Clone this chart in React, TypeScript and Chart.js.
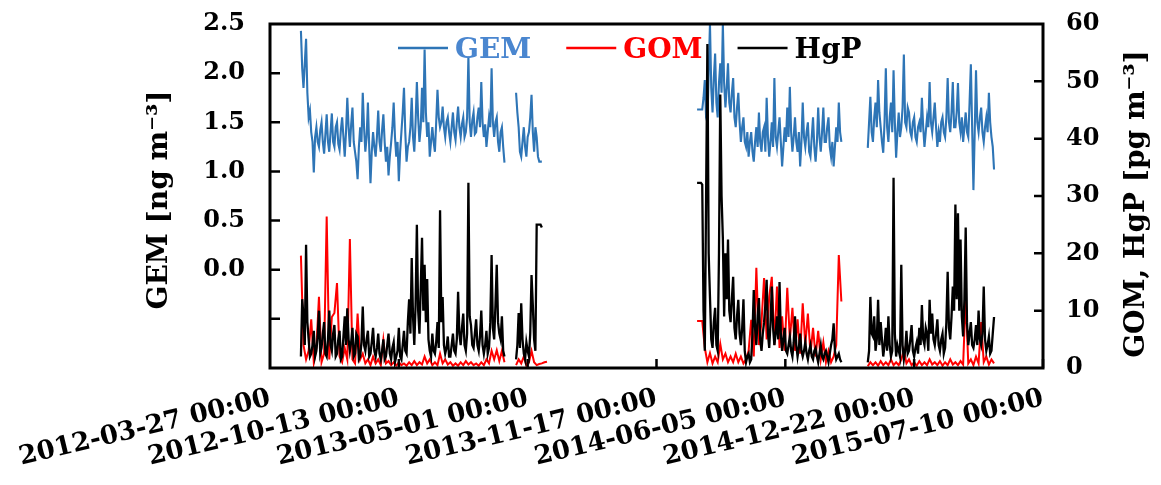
import React, { useEffect, useRef } from 'react';
import { Chart, registerables } from 'chart.js';

Chart.register(...registerables);

// Time axis: days elapsed since 2012-03-27 00:00.
// GEM and HgP segments are sampled every 2 days, GOM every 4 days.
const GEM_STEP_DAYS = 2;
const HGP_STEP_DAYS = 2;
const GOM_STEP_DAYS = 4;
const segmentStartDays = [48, 382, 663, 928];

const xTickLabels = [
  '2012-03-27 00:00',
  '2012-10-13 00:00',
  '2013-05-01 00:00',
  '2013-11-17 00:00',
  '2014-06-05 00:00',
  '2014-12-22 00:00',
  '2015-07-10 00:00',
];

// GEM [ng m-3]
const gemSegA = [
  2.43, 2.05, 1.85, 2.1, 2.35, 1.8, 1.55, 1.62, 1.4, 1.3, 0.99, 1.35, 1.45, 1.3, 1.25, 1.42, 1.5, 1.3, 1.18, 1.38,
  1.58, 1.3, 1.2, 1.4, 1.59, 1.3, 1.25, 1.45, 1.5, 1.28, 1.22, 1.42, 1.55, 1.35, 1.15, 1.4, 1.75, 1.45, 1.25, 1.48,
  1.65, 1.3, 1.2, 1.1, 0.92, 1.25, 1.45, 1.3, 1.8, 1.45, 1.2, 1.35, 1.7, 1.25, 0.88, 1.2, 1.4, 1.25, 1.15, 1.35,
  1.62, 1.3, 1.2, 1.42, 1.58, 1.3, 1.1, 1.25, 0.96, 1.15, 1.29, 1.45, 1.7, 1.35, 1.15, 1.3, 0.9, 1.2, 1.4, 1.6,
  1.85, 1.4, 1.1, 1.25, 1.3, 1.45, 1.75, 1.35, 1.2, 1.5, 1.91, 1.55, 1.3, 1.45, 1.85, 1.5, 2.24, 1.6, 1.35, 1.5,
  1.15, 1.3, 1.45, 1.3, 1.2, 1.5, 1.83, 1.55, 1.45, 1.5, 1.66, 1.45, 1.35, 1.5, 1.55, 1.4, 1.3, 1.45, 1.6, 1.4,
  1.32, 1.5, 1.66, 1.45, 1.35, 1.48, 1.55, 1.35, 1.4, 1.55, 2.17, 1.5, 1.35, 1.52, 1.6, 1.38, 1.4, 1.55, 1.65, 1.45,
  1.91, 1.5, 1.35, 1.48, 1.25, 1.4, 1.55, 1.45, 2.05, 1.5, 1.35, 1.5, 1.55, 1.3, 1.2, 1.4, 1.45, 1.25, 1.09,
];
const gemSegB = [
  1.8, 1.6, 1.45, 1.2, 1.15, 1.3, 1.45, 1.25, 1.15, 1.35, 1.4, 1.55, 1.78, 1.4, 1.2, 1.45, 1.35, 1.15, 1.1, 1.1, 1.1,
];
const gemSegC = [
  1.63, 1.63, 1.63, 1.63, 1.63, 1.75, 1.93, 1.55, 1.5, 2.0, 2.5, 1.85, 1.6, 1.95, 2.2, 1.7, 1.55, 1.9, 2.1, 1.8,
  2.5, 1.9, 1.65, 1.85, 2.1, 1.7, 1.6, 1.8, 1.95, 1.55, 1.45, 1.65, 1.8, 1.5, 1.3, 1.45, 1.55, 1.3, 1.25, 1.4,
  1.15, 1.3, 1.4, 1.2, 1.1, 1.3, 1.45, 1.25, 1.6, 1.3, 1.2, 1.4, 1.45, 1.2, 1.75, 1.35, 1.15, 1.3, 1.5, 1.25,
  1.95, 1.35, 1.25, 1.4, 1.55, 1.3, 1.05, 1.25, 1.45, 1.3, 1.65, 1.35, 1.86, 1.4, 1.2, 1.35, 1.55, 1.3, 1.2, 1.4,
  1.05, 1.3, 1.7, 1.35, 1.25, 1.4, 1.5, 1.2, 1.15, 1.35, 1.55, 1.25, 1.1, 1.3, 1.65, 1.35, 1.2, 1.4, 1.65, 1.3,
  1.3, 1.45, 1.55, 1.25, 1.15, 1.3, 1.05, 1.25, 1.45, 1.3, 1.7, 1.4, 1.3,
];
const gemSegD = [
  1.24, 1.5, 1.76, 1.4, 1.3, 1.55, 1.7, 1.45, 1.93, 1.6, 1.45, 1.3, 1.19, 1.5, 2.05, 1.45, 1.3, 1.55, 1.7, 1.4,
  2.03, 1.5, 1.14, 1.4, 1.6, 1.35, 1.45, 1.65, 2.19, 1.5, 1.45, 1.65, 1.6, 1.4, 1.35, 1.5, 1.55, 1.35, 1.3, 1.45,
  1.5, 1.4, 1.75, 1.45, 1.25, 1.4, 1.55, 1.45, 1.91, 1.5, 1.4, 1.55, 1.7, 1.45, 1.25, 1.4, 1.3, 1.5, 1.55, 1.4,
  1.35, 1.55, 1.95, 1.5, 1.4, 1.6, 1.91, 1.45, 1.45, 1.6, 1.9, 1.5, 1.4, 1.55, 1.3, 1.45, 1.6, 1.4, 1.35, 1.7,
  2.09, 1.45, 0.81, 1.4, 2.03, 1.5, 1.4, 1.55, 1.65, 1.4, 1.3, 1.45, 1.55, 1.4, 1.8, 1.5, 1.35, 1.25, 1.02,
];

// GOM [pg m-3]
const gomSegA = [
  19.6, 4.0, 1.5, 3.0, 8.5, 1.0, 3.5, 12.4, 1.0, 2.5,
  26.4, 1.5, 8.9, 9.6, 14.8, 2.0, 1.0, 3.5, 1.5, 22.5,
  1.5, 0.8, 9.5, 1.5, 2.5, 0.8, 1.5, 0.5, 2.0, 0.8,
  1.5, 0.5, 4.9, 0.8, 1.2, 0.5, 1.0, 0.4, 1.0, 0.5,
  0.8, 0.4, 1.0, 0.5, 1.2, 0.5, 1.0, 0.6, 2.0, 0.8,
  1.5, 0.5, 1.0, 0.5, 2.5, 0.8, 1.5, 0.6, 1.0, 0.4,
  0.8, 0.4, 1.0, 0.5, 1.2, 0.6, 1.0, 0.5, 0.8, 0.4,
  1.0, 0.5, 1.5, 0.8, 3.0, 1.5, 3.1, 1.2, 3.0, 1.0,
];
const gomSegB = [0.5, 1.5, 0.8, 2.0, 0.5, 1.0, 3.0, 1.0, 0.5, 0.7, 0.8, 1.0, 1.1];
const gomSegC = [
  8.2, 8.2, 8.2, 3.5, 1.0, 2.6, 0.8, 2.0, 1.0, 4.2,
  1.5, 2.5, 1.0, 2.0, 1.0, 2.5, 1.0, 2.0, 0.8, 1.5,
  3.0, 8.4, 2.0, 17.5, 4.0, 8.0, 15.7, 5.0, 12.4, 15.9,
  4.0, 14.2, 3.5, 9.0, 3.0, 14.0, 5.0, 10.5, 3.0, 8.5,
  2.5, 11.3, 4.0, 9.5, 2.5, 7.0, 2.0, 6.5, 1.5, 4.5,
  1.0, 3.0, 1.0, 2.0, 4.0, 19.7, 11.6,
];
const gomSegD = [
  0.3, 1.0, 0.5, 1.0, 0.4, 1.2, 0.5, 1.0, 0.5, 1.5,
  0.5, 1.0, 0.5, 1.5, 3.1, 0.8, 1.5, 0.5, 1.0, 0.4,
  1.2, 0.5, 1.0, 0.5, 1.5, 0.6, 1.0, 0.5, 1.2, 0.4,
  1.0, 0.5, 1.5, 0.6, 1.0, 0.5, 1.2, 0.6, 12.4, 0.8,
  1.5, 0.5, 2.0, 0.8, 8.0, 1.0, 2.0, 0.6, 1.5, 0.8,
];

// HgP [pg m-3]
const hgpSegA = [
  2.0, 12.0, 9.0, 4.0, 21.5, 8.0, 5.0, 2.0, 2.5, 4.0, 6.5, 2.0, 3.0, 5.5, 10.0, 2.5, 3.5, 6.0, 8.0, 2.5,
  2.0, 5.0, 10.0, 4.0, 3.0, 6.0, 7.5, 2.0, 2.5, 5.0, 6.5, 1.5, 2.0, 5.5, 9.0, 4.0, 10.4, 5.0, 3.0, 4.5,
  7.0, 2.0, 2.5, 6.0, 5.5, 1.5, 2.0, 4.5, 10.7, 4.0, 3.0, 5.0, 6.5, 2.0, 2.5, 4.5, 7.0, 3.0, 2.0, 3.5,
  6.0, 2.5, 1.5, 3.0, 5.0, 1.5, 2.0, 4.0, 6.0, 2.5, 1.5, 3.5, 4.5, 1.0, 2.0, 3.0, 7.0, 2.0, 1.5, 4.0,
  6.5, 3.0, 2.5, 8.0, 12.0, 6.0, 19.2, 9.0, 4.0, 11.0, 25.0, 10.0, 6.0, 14.0, 22.7, 10.0, 18.0, 8.0, 15.5, 5.0,
  3.0, 2.0, 6.0, 3.0, 2.5, 4.5, 8.0, 3.5, 27.5, 8.0, 12.4, 4.0, 2.5, 3.5, 5.5, 2.0, 2.0, 4.0, 6.0, 3.0,
  2.5, 5.0, 13.3, 6.0, 4.0, 7.0, 9.5, 4.0, 3.0, 6.0, 32.3, 9.0, 7.5, 4.0, 3.5, 6.0, 8.5, 4.0, 3.0, 5.5,
  10.0, 4.0, 2.5, 4.0, 6.5, 2.5, 3.5, 8.0, 19.7, 7.0, 5.0, 11.0, 18.0, 8.0, 6.0, 5.0, 9.0, 3.0, 2.0,
];
const hgpSegB = [
  1.5, 4.0, 9.6, 3.5, 11.3, 5.0, 2.5, 1.5, 4.5, 3.0, 2.0, 6.0, 16.2, 11.0, 5.0, 3.0, 25.0, 25.0, 25.0, 25.0, 24.5,
];
const hgpSegC = [
  32.3, 32.3, 32.3, 32.3, 32.0, 10.0, 3.0, 30.0, 56.5, 20.0, 12.4, 5.0, 3.5, 8.0, 10.5, 4.0, 3.0, 20.0, 47.7, 30.0,
  22.7, 9.0, 20.0, 12.0, 22.4, 10.0, 8.0, 12.0, 15.9, 7.0, 5.0, 9.0, 11.9, 6.0, 4.0, 7.0, 12.0, 3.0, 1.0, 2.0,
  2.5, 1.0, 1.5, 6.0, 13.6, 7.0, 4.0, 9.0, 12.2, 5.0, 3.0, 6.0, 8.0, 11.0, 15.4, 6.0, 3.5, 8.0, 14.2, 7.0,
  4.0, 6.0, 9.0, 5.0, 15.0, 6.0, 3.0, 5.0, 7.0, 3.0, 2.5, 4.0, 5.5, 3.0, 2.0, 4.5, 9.0, 4.0, 2.0, 3.5,
  6.0, 3.0, 2.0, 3.0, 4.5, 2.5, 1.5, 3.0, 4.0, 2.0, 1.5, 3.0, 3.5, 2.0, 1.0, 2.5, 4.0, 2.0, 1.5, 2.5,
  3.0, 2.0, 1.0, 2.5, 4.0, 5.0, 7.8, 3.0, 1.5, 2.0, 2.5, 1.5, 1.0,
];
const hgpSegD = [
  1.0, 3.0, 12.4, 6.0, 5.5, 9.0, 3.0, 5.0, 11.9, 4.0, 8.0, 5.0, 2.0, 4.0, 7.0, 3.0, 9.0, 4.0, 2.0, 3.0,
  33.2, 6.0, 2.0, 4.0, 3.0, 2.0, 18.0, 4.0, 1.5, 3.0, 6.5, 2.5, 3.0, 5.0, 7.5, 3.0, 2.0, 3.5, 4.5, 2.5,
  7.0, 4.0, 11.0, 5.0, 4.0, 7.0, 6.0, 3.0, 11.9, 6.0, 9.5, 5.0, 4.0, 6.0, 8.5, 4.0, 3.0, 5.0, 6.0, 2.5,
  3.5, 8.0, 16.8, 7.0, 5.0, 9.0, 14.2, 10.0, 28.5, 12.0, 27.0, 10.0, 22.4, 9.0, 5.5, 12.0, 24.5, 8.0, 4.0, 6.0,
  8.0, 4.0, 3.5, 5.0, 7.5, 4.0, 10.0, 5.0, 4.0, 6.0, 14.2, 5.0, 3.0, 4.0, 5.5, 2.5, 3.0, 6.0, 8.9,
];

const GEM_COLOR = '#2E75B6';
const GEM_TEXT_COLOR = '#4A86CF';
const GOM_COLOR = '#FF0000';
const HGP_COLOR = '#000000';
const FONT_FAMILY = "'DejaVu Serif', 'Liberation Serif', serif";

type Pt = { x: number; y: number | null };

// Joins the sampled segments into one series, with a null point between segments so the line breaks.
function buildSeries(segments: number[][], step: number): Pt[] {
  const pts: Pt[] = [];
  segments.forEach((seg, k) => {
    const start = segmentStartDays[k];
    seg.forEach((v, i) => pts.push({ x: start + i * step, y: v }));
    if (k < segments.length - 1) {
      pts.push({ x: start + seg.length * step, y: null });
    }
  });
  return pts;
}

const legendItems = [
  { label: 'GEM', line: GEM_COLOR, text: GEM_TEXT_COLOR },
  { label: 'GOM', line: GOM_COLOR, text: GOM_COLOR },
  { label: 'HgP', line: HGP_COLOR, text: HGP_COLOR },
];

// Frame, inward tick marks, in-plot legend and axis titles.
const decorPlugin = {
  id: 'decor',
  afterDatasetsDraw(chart: any) {
    const { ctx, chartArea: a, scales } = chart;
    ctx.save();
    ctx.strokeStyle = '#000';
    ctx.lineWidth = 2.5;
    ctx.beginPath();
    const yL = scales.y;
    yL.ticks.forEach((t: any) => {
      if (t.value > yL.min && t.value < yL.max) {
        const p = yL.getPixelForValue(t.value);
        ctx.moveTo(a.left, p);
        ctx.lineTo(a.left + 10, p);
      }
    });
    const yR = scales.y2;
    yR.ticks.forEach((t: any) => {
      if (t.value > yR.min && t.value < yR.max) {
        const p = yR.getPixelForValue(t.value);
        ctx.moveTo(a.right, p);
        ctx.lineTo(a.right - 9, p);
      }
    });
    const xs = scales.x;
    xs.ticks.forEach((t: any) => {
      if (t.value > xs.min) {
        const p = xs.getPixelForValue(t.value);
        ctx.moveTo(p, a.bottom);
        ctx.lineTo(p, a.bottom - 9);
      }
    });
    ctx.stroke();
    ctx.lineWidth = 3;
    ctx.strokeRect(a.left, a.top, a.right - a.left, a.bottom - a.top);

    // legend inside the plot, along the top edge
    ctx.font = `bold 28px ${FONT_FAMILY}`;
    ctx.textBaseline = 'alphabetic';
    ctx.textAlign = 'left';
    let x = a.left + 128;
    const ly = a.top + 24;
    legendItems.forEach((it) => {
      ctx.strokeStyle = it.line;
      ctx.lineWidth = 2.5;
      ctx.beginPath();
      ctx.moveTo(x, ly);
      ctx.lineTo(x + 50, ly);
      ctx.stroke();
      ctx.fillStyle = it.text;
      ctx.fillText(it.label, x + 57, ly + 10);
      x += 57 + ctx.measureText(it.label).width + 35;
    });

    // axis titles, both reading bottom to top
    const midY = (a.top + a.bottom) / 2;
    ctx.fillStyle = '#000';
    ctx.textAlign = 'center';
    ctx.textBaseline = 'middle';
    ctx.font = `bold 28px ${FONT_FAMILY}`;
    ctx.translate(160, midY + 4);
    ctx.rotate(-Math.PI / 2);
    ctx.fillText('GEM [ng m\u207B\u00B3]', 0, 0);
    ctx.setTransform(1, 0, 0, 1, 0, 0);
    ctx.translate(1137, midY + 8);
    ctx.rotate(-Math.PI / 2);
    ctx.fillText('GOM, HgP [pg m\u207B\u00B3]', 0, 0);
    ctx.restore();
  },
};

const noEdgePadding = (s: any) => {
  s.paddingTop = 0;
  s.paddingBottom = 0;
};

export default function App() {
  const ref = useRef<HTMLCanvasElement>(null);

  useEffect(() => {
    const tickFont = { family: FONT_FAMILY, size: 24, weight: 'bold' as const };
    const chart = new Chart(ref.current as HTMLCanvasElement, {
      type: 'line',
      data: {
        datasets: [
          {
            label: 'GEM',
            data: buildSeries([gemSegA, gemSegB, gemSegC, gemSegD], GEM_STEP_DAYS) as any,
            yAxisID: 'y',
            borderColor: GEM_COLOR,
            borderWidth: 2.1,
            order: 3,
          },
          {
            label: 'GOM',
            data: buildSeries([gomSegA, gomSegB, gomSegC, gomSegD], GOM_STEP_DAYS) as any,
            yAxisID: 'y2',
            borderColor: GOM_COLOR,
            borderWidth: 2,
            order: 2,
          },
          {
            label: 'HgP',
            data: buildSeries([hgpSegA, hgpSegB, hgpSegC, hgpSegD], HGP_STEP_DAYS) as any,
            yAxisID: 'y2',
            borderColor: HGP_COLOR,
            borderWidth: 2.3,
            order: 1,
          },
        ],
      },
      options: {
        responsive: false,
        animation: false,
        spanGaps: false,
        elements: {
          point: { radius: 0, hoverRadius: 0 },
          line: { tension: 0, fill: false, borderJoinStyle: 'miter' },
        },
        layout: { padding: { top: 24, left: 0, right: 0, bottom: 0 } },
        plugins: { legend: { display: false }, tooltip: { enabled: false } },
        events: [],
        scales: {
          x: {
            type: 'linear',
            min: 0,
            max: 1200,
            grid: { display: false, drawTicks: false },
            border: { display: false },
            ticks: {
              stepSize: 200,
              autoSkip: false,
              minRotation: 13.5,
              maxRotation: 13.5,
              padding: 15,
              color: '#000',
              font: { family: FONT_FAMILY, size: 26, weight: 'bold' as const },
              callback: (_v: any, i: number) => xTickLabels[i],
            },
            afterFit: (s: any) => {
              s.height = 117;
            },
          },
          y: {
            position: 'left',
            min: -1,
            max: 2.5,
            grid: { display: false, drawTicks: false },
            border: { display: false },
            ticks: {
              stepSize: 0.5,
              padding: 25,
              color: '#000',
              font: tickFont,
              callback: (v: any) => (Number(v) < 0 ? '' : Number(v).toFixed(1)),
            },
            afterFit: (s: any) => {
              s.width = 270;
              noEdgePadding(s);
            },
          },
          y2: {
            position: 'right',
            min: 0,
            max: 60,
            grid: { display: false, drawTicks: false },
            border: { display: false },
            ticks: {
              stepSize: 10,
              padding: 23,
              color: '#000',
              font: tickFont,
              callback: (v: any) => String(v),
            },
            afterFit: (s: any) => {
              s.width = 118;
              noEdgePadding(s);
            },
          },
        },
      },
      plugins: [decorPlugin],
    });
    return () => chart.destroy();
  }, []);

  return (
    <div style={{ position: 'fixed', left: 0, top: 0, width: 1161, height: 485, background: '#fff' }}>
      <canvas ref={ref} width={1161} height={485} style={{ display: 'block' }} />
    </div>
  );
}
